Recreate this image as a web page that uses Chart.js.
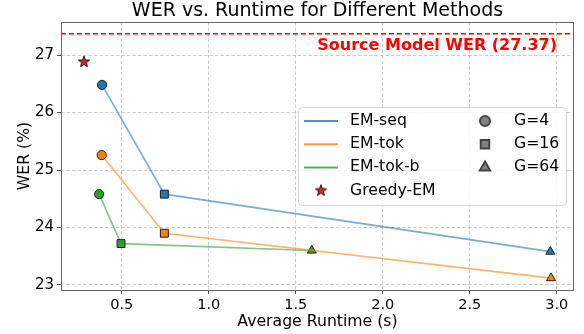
<!DOCTYPE html>
<html>
<head>
<meta charset="utf-8">
<script src="https://cdn.jsdelivr.net/npm/chart.js@4.4.1/dist/chart.umd.min.js"></script>
<style>
  html, body { margin: 0; padding: 0; background: #fff; }
</style>
</head>
<body>
<canvas id="werChart" width="584" height="334"></canvas>
<script>
// datos
const methods = ['EM-seq', 'EM-tok', 'EM-tok-b'];
const groupLabels = ['G=4', 'G=16', 'G=64'];
const runtimeSeq = [0.387, 0.745, 2.963];
const werSeq = [26.48, 24.58, 23.58];
const runtimeTok = [0.385, 0.745, 2.967];
const werTok = [25.26, 23.90, 23.12];
const runtimeTokB = [0.370, 0.496, 1.592];
const werTokB = [24.58, 23.72, 23.60];
const runtimeGreedy = [0.283];
const werGreedy = [26.88];
const sourceWER = 27.37;
const xTicks = [0.5, 1.0, 1.5, 2.0, 2.5, 3.0];
const yTicks = [23, 24, 25, 26, 27];

const colors = ['#1f77b4', '#ff7f0e', '#2ca02c'];
const lineColors = ['rgba(31,119,180,0.6)', 'rgba(255,127,14,0.6)', 'rgba(44,160,44,0.6)'];
const markerStyles = ['circle', 'rect', 'triangle'];
const markerSizes = [4.6, 5.6, 5.2];
const FONT = "'DejaVu Sans', sans-serif";

Chart.defaults.font.family = FONT;
Chart.defaults.color = '#000';

// estrella rellena para Greedy-EM
function makeStar(r) {
  const c = document.createElement('canvas');
  const s = Math.ceil(r * 2 + 4);
  c.width = c.height = s;
  const g = c.getContext('2d');
  g.beginPath();
  for (let i = 0; i < 10; i++) {
    const rad = i % 2 ? r * 0.42 : r;
    const ang = -Math.PI / 2 + i * Math.PI / 5;
    g.lineTo(s / 2 + rad * Math.cos(ang), s / 2 + rad * Math.sin(ang));
  }
  g.closePath();
  g.fillStyle = '#d62728';
  g.fill();
  g.strokeStyle = '#000';
  g.lineWidth = 0.8;
  g.stroke();
  return c;
}
const starImg = makeStar(6);

function toPoints(xs, ys) {
  return xs.map((x, i) => ({ x: x, y: ys[i] }));
}

const seriesX = [runtimeSeq, runtimeTok, runtimeTokB];
const seriesY = [werSeq, werTok, werTokB];

const datasets = methods.map((m, i) => ({
  label: m,
  data: toPoints(seriesX[i], seriesY[i]),
  showLine: true,
  borderColor: lineColors[i],
  borderWidth: 1.6,
  pointStyle: markerStyles,
  pointRadius: markerSizes,
  pointBackgroundColor: colors[i],
  pointBorderColor: '#222',
  pointBorderWidth: 1
}));
datasets.push({
  label: 'Greedy-EM',
  data: toPoints(runtimeGreedy, werGreedy),
  showLine: false,
  pointStyle: starImg,
  pointRadius: 6
});

// titulo, linea de referencia, marco
const framePlugin = {
  id: 'frame',
  beforeDatasetsDraw(chart) {
    const ctx = chart.ctx, a = chart.chartArea;
    const y = chart.scales.y.getPixelForValue(sourceWER);
    ctx.save();
    ctx.strokeStyle = '#ff0000';
    ctx.lineWidth = 1.3;
    ctx.setLineDash([5, 3]);
    ctx.beginPath();
    ctx.moveTo(a.left, y);
    ctx.lineTo(a.right, y);
    ctx.stroke();
    ctx.setLineDash([]);
    ctx.fillStyle = '#ff0000';
    ctx.font = 'bold 16px ' + FONT;
    ctx.textAlign = 'right';
    ctx.textBaseline = 'middle';
    ctx.fillText('Source Model WER (' + sourceWER.toFixed(2) + ')', a.right - 17, y + 12.5);
    ctx.strokeStyle = '#666';
    ctx.lineWidth = 1;
    ctx.strokeRect(Math.round(a.left) + 0.5, Math.round(a.top) + 0.5,
      Math.round(a.right - a.left) - 1, Math.round(a.bottom - a.top));
    ctx.fillStyle = '#000';
    ctx.font = '19px ' + FONT;
    ctx.textAlign = 'center';
    ctx.fillText('WER vs. Runtime for Different Methods', (a.left + a.right) / 2, 11);
    ctx.restore();
  }
};

function drawMarker(ctx, style, r, x, y) {
  if (Chart.helpers && Chart.helpers.drawPoint) {
    Chart.helpers.drawPoint(ctx, { pointStyle: style, radius: r, rotation: 0, borderWidth: 1 }, x, y);
  }
}

// leyenda en dos columnas
const legendPlugin = {
  id: 'boxLegend',
  afterDraw(chart) {
    const ctx = chart.ctx, a = chart.chartArea;
    const bx = a.right - 276, by = a.top + 85, bw = 268, bh = 98;
    ctx.save();
    ctx.beginPath();
    ctx.roundRect(bx + 0.5, by + 0.5, bw, bh, 4);
    ctx.fillStyle = 'rgba(255,255,255,0.85)';
    ctx.fill();
    ctx.strokeStyle = '#d6d6d6';
    ctx.lineWidth = 1;
    ctx.stroke();
    ctx.font = '15.7px ' + FONT;
    ctx.textBaseline = 'middle';
    ctx.textAlign = 'left';
    const rowY = i => by + 14 + i * 23.2;
    methods.forEach((m, i) => {
      ctx.strokeStyle = colors[i];
      ctx.globalAlpha = 0.8;
      ctx.lineWidth = 2;
      ctx.beginPath();
      ctx.moveTo(bx + 6, rowY(i));
      ctx.lineTo(bx + 40, rowY(i));
      ctx.stroke();
      ctx.globalAlpha = 1;
      ctx.fillStyle = '#000';
      ctx.fillText(m, bx + 52, rowY(i));
    });
    ctx.drawImage(starImg, bx + 23 - starImg.width / 2, rowY(3) - starImg.height / 2);
    ctx.fillStyle = '#000';
    ctx.fillText('Greedy-EM', bx + 52, rowY(3));
    groupLabels.forEach((g, i) => {
      ctx.fillStyle = '#808080';
      ctx.strokeStyle = '#444';
      drawMarker(ctx, markerStyles[i], [5, 6, 6][i], bx + 187, rowY(i));
      ctx.fillStyle = '#000';
      ctx.fillText(g, bx + 216, rowY(i));
    });
    ctx.restore();
  }
};

const gridOpts = {
  color: 'rgba(170,170,170,0.6)',
  tickLength: 4,
  tickColor: '#555',
  tickBorderDash: [],
  tickWidth: 1
};
const borderOpts = { display: false, dash: [3.5, 2] };

new Chart(document.getElementById('werChart').getContext('2d'), {
  type: 'scatter',
  data: { datasets: datasets },
  options: {
    responsive: false,
    animation: false,
    devicePixelRatio: 1,
    layout: { padding: { top: 22, right: 10, left: 0, bottom: 0 } },
    plugins: {
      legend: { display: false },
      tooltip: { enabled: false },
      title: { display: false }
    },
    scales: {
      x: {
        type: 'linear',
        min: 0.151,
        max: 3.099,
        grid: gridOpts,
        border: borderOpts,
        afterBuildTicks: s => { s.ticks = xTicks.map(v => ({ value: v })); },
        afterFit: s => { s.height = 44; },
        ticks: {
          padding: 3,
          font: { size: 14.5 },
          color: '#000',
          callback: v => v.toFixed(1)
        },
        title: {
          display: true,
          text: 'Average Runtime (s)',
          font: { size: 15.7 },
          color: '#000',
          padding: { top: 0, bottom: 3 }
        }
      },
      y: {
        type: 'linear',
        min: 22.913,
        max: 27.574,
        grid: gridOpts,
        border: borderOpts,
        afterBuildTicks: s => { s.ticks = yTicks.map(v => ({ value: v })); },
        afterFit: s => { s.width = 61; },
        ticks: {
          padding: 3,
          font: { size: 15 },
          color: '#000',
          callback: v => String(v)
        },
        title: {
          display: true,
          text: 'WER (%)',
          font: { size: 15.7 },
          color: '#000',
          padding: { top: 15.5, bottom: 0 }
        }
      }
    }
  },
  plugins: [framePlugin, legendPlugin]
});
</script>
</body>
</html>
